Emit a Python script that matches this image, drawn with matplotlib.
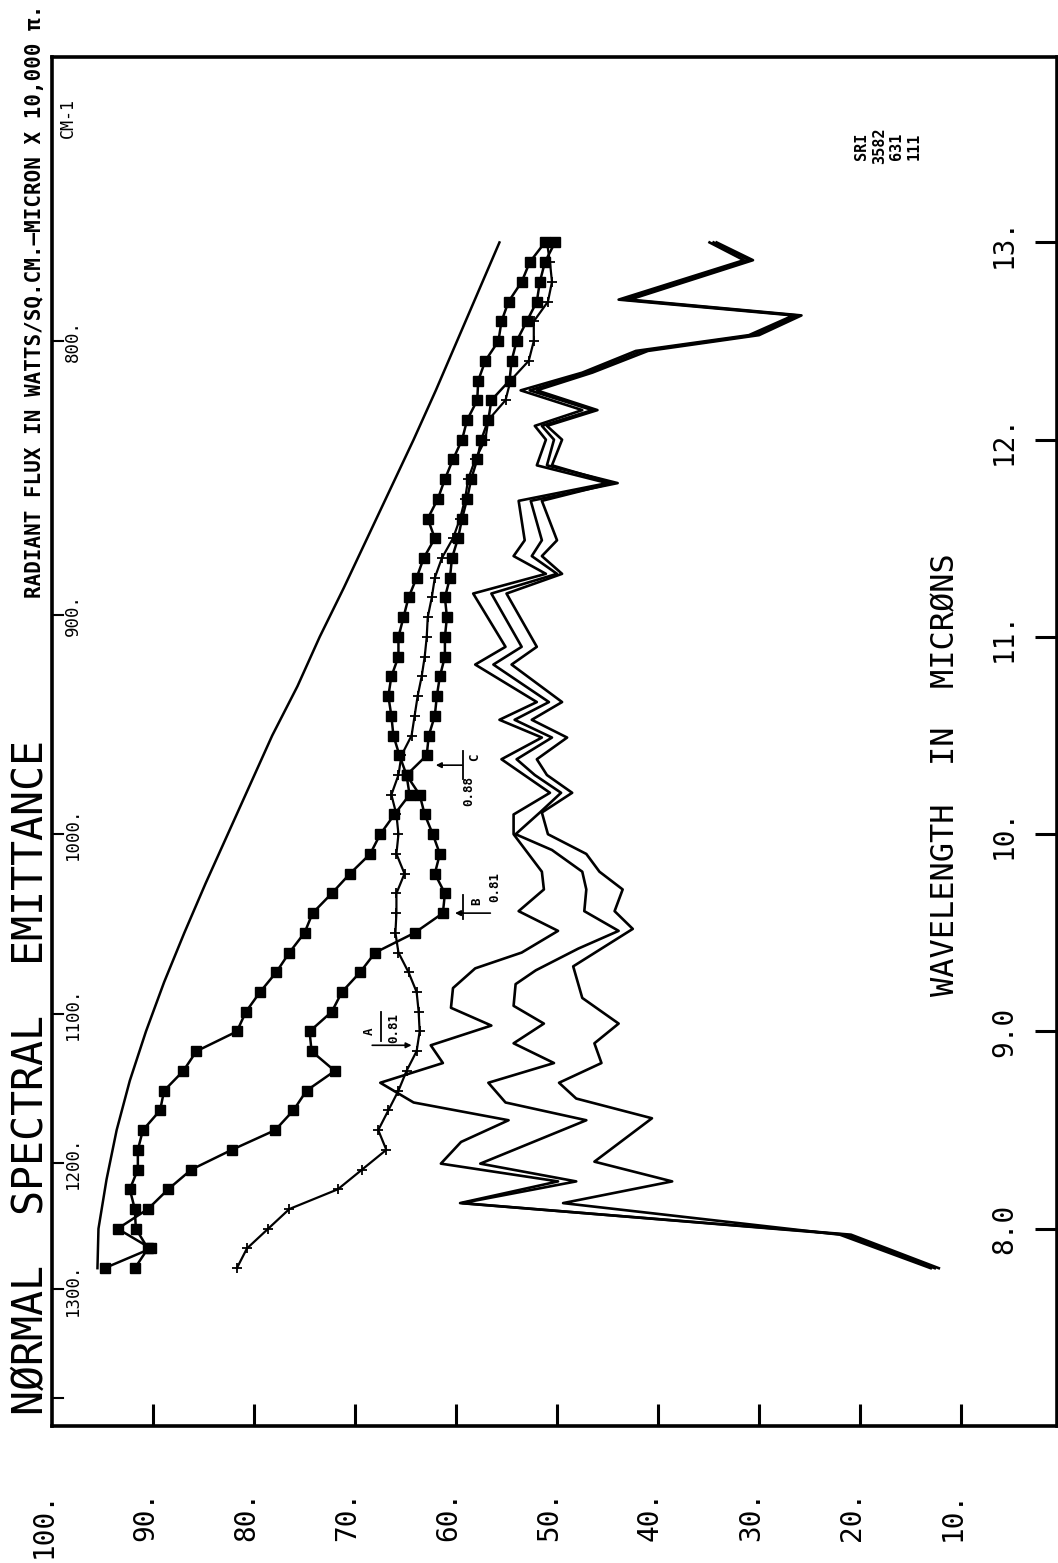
import matplotlib
matplotlib.use("Agg")
import matplotlib.pyplot as plt
from matplotlib import transforms

W, H = 1058, 1563
MONO = "DejaVu Sans Mono"

# wavelength grid (microns) of the three marked curves
wavelength = [7.8, 7.9, 8.0, 8.1, 8.2, 8.3, 8.4, 8.5, 8.6, 8.7,
              8.8, 8.9, 9.0, 9.1, 9.2, 9.3, 9.4, 9.5, 9.6, 9.7,
              9.8, 9.9, 10.0, 10.1, 10.2, 10.3, 10.4, 10.5, 10.6, 10.7,
              10.8, 10.9, 11.0, 11.1, 11.2, 11.3, 11.4, 11.5, 11.6, 11.7,
              11.8, 11.9, 12.0, 12.1, 12.2, 12.3, 12.4, 12.5, 12.6, 12.7,
              12.8, 12.9, 13.0]

# sample A (plus markers)
flux_a = [81.7, 80.7, 78.6, 76.5, 71.7, 69.3, 66.9, 67.7, 66.7, 65.7,
          64.9, 63.9, 63.6, 63.7, 63.9, 64.7, 65.7, 66.0, 65.9, 65.9,
          65.1, 65.9, 65.7, 65.9, 66.4, 65.7, 65.4, 64.4, 64.1, 63.8,
          63.4, 63.1, 62.9, 62.8, 62.4, 62.1, 61.4, 60.3, 59.6, 59.1,
          58.8, 58.1, 57.1, 56.8, 55.1, 54.6, 52.8, 52.3, 52.3, 50.9,
          50.5, 50.7, 51.0]

# sample B (squares)
flux_b = [94.8, 90.2, 93.5, 90.5, 88.5, 86.2, 82.2, 77.9, 76.1, 74.8,
          72.0, 74.3, 74.5, 72.3, 71.3, 69.5, 68.0, 64.1, 61.3, 61.1,
          62.1, 61.6, 62.3, 63.1, 63.6, 64.9, 65.6, 66.2, 66.4, 66.7,
          66.4, 65.7, 65.7, 65.2, 64.7, 63.9, 63.2, 62.1, 62.8, 61.8,
          61.1, 60.3, 59.4, 58.9, 57.9, 57.8, 57.1, 55.8, 55.5, 54.8,
          53.5, 52.7, 51.2]

# sample C (squares)
flux_c = [91.8, 90.5, 91.7, 91.8, 92.3, 91.5, 91.5, 91.0, 89.3, 88.9,
          87.0, 85.7, 81.7, 80.8, 79.4, 77.8, 76.5, 75.0, 74.2, 72.3,
          70.5, 68.5, 67.5, 66.1, 64.6, 64.9, 62.9, 62.7, 62.1, 61.9,
          61.6, 61.1, 61.1, 60.9, 61.1, 60.6, 60.4, 59.8, 59.4, 58.9,
          58.5, 57.9, 57.5, 56.8, 56.5, 54.7, 54.5, 54.0, 53.0, 52.0,
          51.7, 51.2, 50.2]

# black body reference curve
bb_wavelength = [7.8, 8.0, 8.25, 8.5, 8.75, 9.0, 9.25, 9.5, 9.75, 10.0, 10.25,
                 10.5, 10.75, 11.0, 11.25, 11.5, 11.75, 12.0, 12.25, 12.5,
                 12.75, 13.0]
bb_flux = [95.5, 95.4, 94.6, 93.6, 92.3, 90.7, 88.9, 86.9, 84.8, 82.6, 80.4,
           78.2, 75.7, 73.5, 71.1, 68.8, 66.5, 64.2, 62.0, 59.9, 57.8, 55.7]

# three unmarked traces
n1_wavelength = [7.80, 7.97, 8.13, 8.24, 8.33, 8.44, 8.55, 8.64, 8.74, 8.84,
                 8.93, 9.03, 9.12, 9.22, 9.32, 9.40, 9.51, 9.61, 9.72, 9.81,
                 10.00, 10.10, 10.21, 10.38, 10.49, 10.58, 10.67, 10.86, 10.95,
                 11.22, 11.32, 11.41, 11.49, 11.69, 11.78, 11.87, 12.00, 12.07,
                 12.15, 12.25, 12.34, 12.45, 12.53, 12.63, 12.71, 12.91, 13.00]
n1_flux = [12.2, 20.9, 59.6, 49.9, 61.5, 59.5, 54.8, 64.2, 67.5, 61.3,
           62.5, 56.5, 60.5, 60.3, 58.1, 53.5, 49.9, 53.8, 51.3, 51.5,
           54.3, 54.3, 50.7, 55.5, 51.5, 55.7, 52.0, 58.1, 55.1,
           58.3, 51.1, 54.3, 53.2, 53.8, 45.0, 52.0, 51.1, 52.2,
           47.5, 53.6, 47.5, 42.2, 31.0, 26.6, 43.9, 31.5, 34.9]

n2_wavelength = [7.80, 7.97, 8.13, 8.24, 8.33, 8.55, 8.64, 8.74, 8.84, 8.94,
                 9.04, 9.13, 9.24, 9.31, 9.42, 9.51, 9.61, 9.72, 9.81, 9.92,
                 10.00, 10.11, 10.21, 10.30, 10.38, 10.49, 10.58, 10.67, 10.86,
                 10.95, 11.22, 11.32, 11.41, 11.49, 11.69, 11.78, 11.87, 12.00,
                 12.07, 12.15, 12.25, 12.34, 12.45, 12.53, 12.63, 12.71, 12.91,
                 13.00]
n2_flux = [12.6, 21.4, 59.4, 48.1, 57.6, 47.1, 55.1, 56.8, 50.3, 54.3,
           51.3, 54.3, 54.1, 52.1, 47.9, 43.9, 47.3, 47.1, 47.5, 50.5,
           54.1, 51.7, 49.6, 52.2, 54.0, 50.5, 54.2, 50.8, 56.3,
           53.5, 56.5, 50.0, 52.5, 51.5, 52.6, 44.0, 51.0, 50.3,
           51.5, 46.5, 52.7, 47.0, 41.6, 30.5, 26.2, 43.3, 31.0,
           34.5]

n3_wavelength = [7.80, 7.97, 8.13, 8.24, 8.34, 8.56, 8.66, 8.74, 8.84, 8.94,
                 9.04, 9.17, 9.33, 9.52, 9.61, 9.72, 9.81, 9.90, 10.00, 10.11,
                 10.21, 10.30, 10.38, 10.49, 10.58, 10.67, 10.86, 10.95, 11.22,
                 11.32, 11.41, 11.49, 11.69, 11.78, 11.87, 12.00, 12.07, 12.15,
                 12.25, 12.34, 12.45, 12.53, 12.63, 12.71, 12.91, 13.00]
n3_flux = [13.0, 22.0, 49.4, 38.6, 46.3, 40.6, 48.1, 49.8, 45.6, 46.3,
           43.9, 47.5, 48.4, 42.5, 44.3, 43.5, 45.8, 47.1, 50.9, 51.5,
           48.5, 51.0, 52.0, 49.0, 52.5, 49.5, 54.5, 52.0, 55.0,
           49.5, 51.5, 50.0, 51.5, 44.5, 50.5, 49.5, 51.0, 46.0,
           52.0, 46.5, 41.0, 30.0, 25.8, 42.8, 30.6, 34.2]

flux_ticks = [100, 90, 80, 70, 60, 50, 40, 30, 20, 10]
flux_labels = ["100.", "90.", "80.", "70.", "60.", "50.", "40.", "30.", "20.", "10."]
wl_ticks = [8, 9, 10, 11, 12, 13]
wl_labels = ["8.0", "9.0", "10.", "11.", "12.", "13."]
wavenumbers = [1400, 1300, 1200, 1100, 1000, 900, 800]
wn_labels = ["", "1300.", "1200.", "1100.", "1000.", "900.", "800."]

# emittance notes: (letter, letter flux, letter wavelength,
#                   emittance, its flux, its wavelength,
#                   bar flux, bar wavelength span, arrow tail, arrow tip, arrow wavelength)
notes = [("A", 68.2, 9.00, "0.81", 65.8, 9.02, 67.4, (8.95, 9.10), 68.3, 64.4, 8.93),
         ("B", 57.6, 9.66, "0.81", 55.8, 9.73, 59.3, (9.57, 9.69), 56.6, 60.1, 9.60),
         ("C", 57.8, 10.39, "0.88", 58.4, 10.22, 59.3, (10.28, 10.42), 59.4, 62.0, 10.35)]


def main():
    fig = plt.figure(figsize=(W / 100, H / 100), dpi=100)
    ax = fig.add_axes([52 / W, 1 - 1426 / H, 1005 / W, 1369 / H])
    ax.set_xlim(100, 0.5)
    ax.set_ylim(7.0, 13.94)

    # curves: flux runs right-to-left, wavelength bottom-to-top
    ax.plot(bb_flux, bb_wavelength, color="black", lw=1.8)
    ax.plot(flux_c, wavelength, color="black", lw=1.8, marker="s", ms=6.5)
    ax.plot(flux_b, wavelength, color="black", lw=1.8, marker="s", ms=6.5)
    ax.plot(flux_a, wavelength, color="black", lw=1.6, marker="+", ms=6.5, mew=1.3)
    ax.plot(n1_flux, n1_wavelength, color="black", lw=1.9)
    ax.plot(n2_flux, n2_wavelength, color="black", lw=1.9)
    ax.plot(n3_flux, n3_wavelength, color="black", lw=1.9)

    for side in ax.spines.values():
        side.set_linewidth(2.6)

    ax.set_xticks(flux_ticks[1:])
    ax.set_yticks(wl_ticks)
    ax.xaxis.set_ticks_position("bottom")
    ax.yaxis.set_ticks_position("right")
    ax.tick_params(axis="both", direction="in", length=16, width=2.2,
                   labelbottom=False, labelleft=False, labelright=False)

    xt = transforms.blended_transform_factory(ax.transData, ax.transAxes)
    yt = transforms.blended_transform_factory(ax.transAxes, ax.transData)

    for v, lab in zip(flux_ticks, flux_labels):
        ax.text(v, -0.0475, lab, transform=xt, rotation=90, rotation_mode="anchor",
                ha="right", va="baseline", fontsize=20, family=MONO, clip_on=False)

    for v, lab in zip(wl_ticks, wl_labels):
        ax.text(0.955, v, lab, transform=yt, rotation=90, rotation_mode="anchor",
                ha="center", va="baseline", fontsize=20, family=MONO)

    # wavenumber scale on the left edge
    for wn, lab in zip(wavenumbers, wn_labels):
        lam = 10000.0 / wn
        ax.plot([0, 0.011], [lam, lam], transform=yt, color="black", lw=1.5)
        ax.text(0.026, lam, lab, transform=yt, rotation=90, rotation_mode="anchor",
                ha="center", va="baseline", fontsize=12.5, family=MONO)
    ax.text(0.021, 13.63, "CM-1", transform=yt, rotation=90, rotation_mode="anchor",
            ha="center", va="baseline", fontsize=12, family=MONO)

    ax.text(0.898, 10.30, "WAVELENGTH  IN  MICRØNS", transform=yt, rotation=90,
            rotation_mode="anchor", ha="center", va="baseline", fontsize=23, family=MONO)

    for (name, nx, ny, eps, ex, ey, bx, (b0, b1), tail, tip, lam) in notes:
        ax.annotate("", xy=(tip, lam), xytext=(tail, lam),
                    arrowprops=dict(arrowstyle="-|>", color="black", lw=1.2,
                                    mutation_scale=8, shrinkA=0, shrinkB=0))
        ax.plot([bx, bx], [b0, b1], color="black", lw=1.3)
        ax.text(nx, ny, name, rotation=90, rotation_mode="anchor",
                ha="center", va="baseline", fontsize=9, weight="bold", family=MONO)
        ax.text(ex, ey, eps, rotation=90, rotation_mode="anchor",
                ha="center", va="baseline", fontsize=9, weight="bold", family=MONO)

    # titles along the left side
    fig.text(43 / W, 1 - 1415 / H, "NØRMAL  SPECTRAL  EMITTANCE", rotation=90,
             rotation_mode="anchor", ha="left", va="baseline", fontsize=30, family=MONO)
    fig.text(41 / W, 1 - 5 / H, "RADIANT FLUX IN WATTS/SQ.CM.—MICRON X 10,000 π.",
             rotation=90, rotation_mode="anchor", ha="right", va="baseline",
             fontsize=15, weight="bold", family=MONO)

    fig.text(888 / W, 1 - 146 / H, "SRI\n3582\n631\n111", rotation=90, ha="center",
             va="center", multialignment="center", fontsize=11, weight="bold",
             family=MONO, linespacing=1.2)

    fig.savefig("out.png", dpi=100)


main()
